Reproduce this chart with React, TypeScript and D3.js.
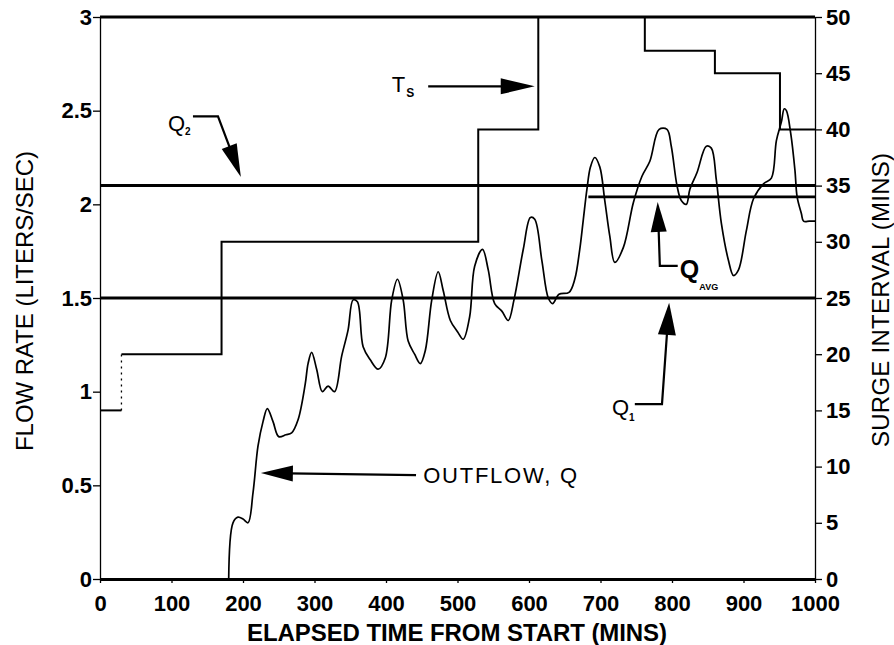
import { useEffect, useRef } from "react";
import * as d3 from "d3";

const W = 894;
const H = 645;

// outflow Q (liters/sec) against elapsed time (mins)
const flowTime = [
  180, 186, 193, 200, 207, 214, 221, 228, 234, 242, 250, 260, 268, 277, 287, 291,
  296, 303, 311, 319, 328, 338, 347, 354, 360, 368, 378, 389, 399, 408, 416, 424,
  431, 440, 448, 455, 464, 473, 480, 490, 500, 508, 517, 524, 535, 543, 552, 562,
  571, 579, 592, 602, 608, 618, 627, 633, 642, 656, 664, 671, 676, 681, 686, 692,
  699, 706, 713, 720, 732, 746, 758, 769, 782, 793, 799, 807, 813, 820, 825, 835,
  848, 855, 862, 869, 879, 886, 893, 904, 914, 928, 939, 946, 953, 957, 960, 966,
  972, 975, 981, 984, 992, 1000,
];
const flowRate = [
  0, 0.3, 0.33, 0.32, 0.3, 0.46, 0.71, 0.84, 0.91, 0.84, 0.76, 0.77, 0.78, 0.85, 1.04, 1.15,
  1.21, 1.12, 1.0, 1.03, 1.0, 1.19, 1.33, 1.49, 1.48, 1.24, 1.17, 1.12, 1.18, 1.49, 1.6, 1.49,
  1.27, 1.2, 1.15, 1.22, 1.49, 1.64, 1.54, 1.38, 1.32, 1.28, 1.4, 1.67, 1.76, 1.65, 1.47, 1.43,
  1.38, 1.49, 1.76, 1.93, 1.92, 1.7, 1.5, 1.47, 1.52, 1.53, 1.6, 1.76, 1.92, 2.08, 2.2, 2.25,
  2.2, 2.02, 1.83, 1.69, 1.77, 2.01, 2.15, 2.23, 2.4, 2.4, 2.31, 2.1, 2.02, 2.0, 2.08, 2.17,
  2.31, 2.3, 2.13, 1.9, 1.7, 1.62, 1.65, 1.86, 2.03, 2.11, 2.14, 2.34, 2.44, 2.51, 2.5, 2.38,
  2.18, 2.04, 1.95, 1.91, 1.91, 1.91,
];

// surge interval Ts (mins), each value holds until the next time
const surgeTime = [0, 30, 170, 529, 613, 762, 860, 951, 1000];
const surgeMins = [15, 20, 30, 40, 50, 47, 45, 40, 40];

// reference flow levels (liters/sec)
const q1 = 1.5;
const q2 = 2.1;
const qAvg = 2.04;
const qAvgStart = 683;

const xTicks = [0, 100, 200, 300, 400, 500, 600, 700, 800, 900, 1000];
const leftTicks = [0, 0.5, 1, 1.5, 2, 2.5, 3];
const rightTicks = [0, 5, 10, 15, 20, 25, 30, 35, 40, 45, 50];

const FONT = "'Liberation Sans', Arial, Helvetica, sans-serif";

export default function App() {
  const ref = useRef<SVGSVGElement>(null);

  useEffect(() => {
    if (!ref.current) return;
    const svg = d3.select(ref.current);
    svg.selectAll("*").remove();

    const x = d3.scaleLinear().domain([0, 1000]).range([100, 815]);
    const yL = d3.scaleLinear().domain([0, 3]).range([579, 17]);
    const yR = d3.scaleLinear().domain([0, 50]).range([579, 17]);

    const g = svg.append("g").style("font-family", FONT);

    // axes
    const left = g
      .append("g")
      .attr("transform", `translate(${x(0)},0)`)
      .call(
        d3
          .axisLeft(yL)
          .tickValues(leftTicks)
          .tickSize(7)
          .tickSizeOuter(0)
          .tickPadding(1)
          .tickFormat((d) => `${d}`)
      );
    const right = g
      .append("g")
      .attr("transform", `translate(${x(1000)},0)`)
      .call(
        d3
          .axisRight(yR)
          .tickValues(rightTicks)
          .tickSize(7)
          .tickSizeOuter(0)
          .tickPadding(4)
          .tickFormat((d) => `${d}`)
      );
    const bottom = g
      .append("g")
      .attr("transform", `translate(0,${yL(0)})`)
      .call(
        d3
          .axisBottom(x)
          .tickValues(xTicks)
          .tickSize(4)
          .tickSizeOuter(0)
          .tickPadding(12)
          .tickFormat((d) => `${d}`)
      );

    [left, right, bottom].forEach((a) => {
      a.selectAll("text")
        .style("font-family", FONT)
        .style("font-size", "22px")
        .style("font-weight", "bold")
        .attr("fill", "#000");
      a.selectAll("line").attr("stroke", "#000").attr("stroke-width", 1.3);
      a.select(".domain").attr("stroke", "#000").attr("stroke-width", 1.3);
    });
    bottom.select(".domain").attr("stroke-width", 3);

    // horizontal reference lines
    const hline = (v: number, x0: number, w: number) =>
      g
        .append("line")
        .attr("x1", x(x0))
        .attr("x2", x(1000))
        .attr("y1", yL(v))
        .attr("y2", yL(v))
        .attr("stroke", "#000")
        .attr("stroke-width", w);
    hline(3, 0, 3);
    hline(q2, 0, 3);
    hline(q1, 0, 3);
    hline(qAvg, qAvgStart, 2.6);

    // surge interval steps
    g.append("line")
      .attr("x1", x(surgeTime[0]))
      .attr("x2", x(surgeTime[1]))
      .attr("y1", yR(surgeMins[0]))
      .attr("y2", yR(surgeMins[0]))
      .attr("stroke", "#000")
      .attr("stroke-width", 2);
    g.append("line")
      .attr("x1", x(surgeTime[1]))
      .attr("x2", x(surgeTime[1]))
      .attr("y1", yR(surgeMins[0]))
      .attr("y2", yR(surgeMins[1]))
      .attr("stroke", "#000")
      .attr("stroke-width", 1.3)
      .attr("stroke-dasharray", "2 4");
    const steps = d3
      .line<number>()
      .x((_, i) => x(surgeTime[i + 1]))
      .y((_, i) => yR(surgeMins[i + 1]))
      .curve(d3.curveStepAfter);
    g.append("path")
      .attr("d", steps(surgeMins.slice(1)))
      .attr("fill", "none")
      .attr("stroke", "#000")
      .attr("stroke-width", 2);

    // outflow trace
    const flow = d3
      .line<number>()
      .x((_, i) => x(flowTime[i]))
      .y((d) => yL(d))
      .curve(d3.curveCatmullRom.alpha(0.5));
    g.append("path")
      .attr("d", flow(flowRate))
      .attr("fill", "none")
      .attr("stroke", "#000")
      .attr("stroke-width", 1.7)
      .attr("stroke-linejoin", "round");

    // annotations
    const arrow = (pts: [number, number][], len = 32, half = 8) => {
      const p = pts.map(([a, b]) => [x(a), yL(b)] as [number, number]);
      const tip = p[p.length - 1];
      const prev = p[p.length - 2];
      const dx = tip[0] - prev[0];
      const dy = tip[1] - prev[1];
      const n = Math.hypot(dx, dy);
      const ux = dx / n;
      const uy = dy / n;
      const bx = tip[0] - ux * len;
      const by = tip[1] - uy * len;
      const shaft = [...p.slice(0, -1), [bx + ux * 4, by + uy * 4]];
      g.append("path")
        .attr("d", d3.line()(shaft as [number, number][]))
        .attr("fill", "none")
        .attr("stroke", "#000")
        .attr("stroke-width", 2.2);
      g.append("path")
        .attr(
          "d",
          `M${tip[0]},${tip[1]}L${bx - uy * half},${by + ux * half}L${bx + uy * half},${by - ux * half}Z`
        )
        .attr("fill", "#000");
    };

    const label = (
      xv: number,
      yv: number,
      main: string,
      size: number,
      weight = "normal",
      sub?: string,
      subSize = 11,
      subDx = 0,
      subDy = 5
    ) => {
      const t = g
        .append("text")
        .attr("x", x(xv))
        .attr("y", yL(yv))
        .style("font-size", `${size}px`)
        .style("font-weight", weight)
        .attr("fill", "#000")
        .text(main);
      if (sub)
        t.append("tspan")
          .attr("dx", subDx)
          .attr("dy", subDy)
          .style("font-size", `${subSize}px`)
          .style("font-weight", "bold")
          .text(sub);
      return t;
    };

    // Ts
    label(408, 2.6, "T", 22, "normal", "S", 12, 1, 5);
    arrow([
      [459, 2.63],
      [608, 2.63],
    ], 34, 8);

    // Q2
    label(95, 2.39, "Q", 22, "normal", "2", 10, 0, 4);
    arrow([
      [130, 2.47],
      [165, 2.47],
      [197, 2.146],
    ], 33, 8);

    // Q avg
    label(811, 1.607, "Q", 25, "bold", "AVG", 9, 0, 12);
    arrow([
      [808, 1.671],
      [783, 1.671],
      [780, 2.013],
    ], 30, 8);

    // Q1
    label(716, 0.876, "Q", 22, "normal", "1", 10, 0, 6);
    arrow([
      [748, 0.934],
      [786, 0.934],
      [796, 1.474],
    ], 32, 9);

    // outflow
    label(452, 0.513, "OUTFLOW, Q", 22).attr("textLength", 154);
    arrow([
      [442, 0.555],
      [225, 0.566],
    ], 32, 8);

    // axis titles
    g.append("text")
      .attr("transform", `translate(33,301) rotate(-90)`)
      .attr("text-anchor", "middle")
      .style("font-size", "24px")
      .attr("textLength", 300)
      .attr("fill", "#000")
      .text("FLOW RATE (LITERS/SEC)");
    g.append("text")
      .attr("transform", `translate(889,300) rotate(-90)`)
      .attr("text-anchor", "middle")
      .style("font-size", "24px")
      .attr("textLength", 294)
      .attr("fill", "#000")
      .text("SURGE INTERVAL (MINS)");
    g.append("text")
      .attr("x", 457)
      .attr("y", 641)
      .attr("text-anchor", "middle")
      .style("font-size", "24px")
      .style("font-weight", "bold")
      .attr("textLength", 420)
      .attr("fill", "#000")
      .text("ELAPSED TIME FROM START (MINS)");
  }, []);

  return (
    <svg
      ref={ref}
      width={W}
      height={H}
      style={{ position: "absolute", left: 0, top: 0, background: "#fff" }}
    />
  );
}
